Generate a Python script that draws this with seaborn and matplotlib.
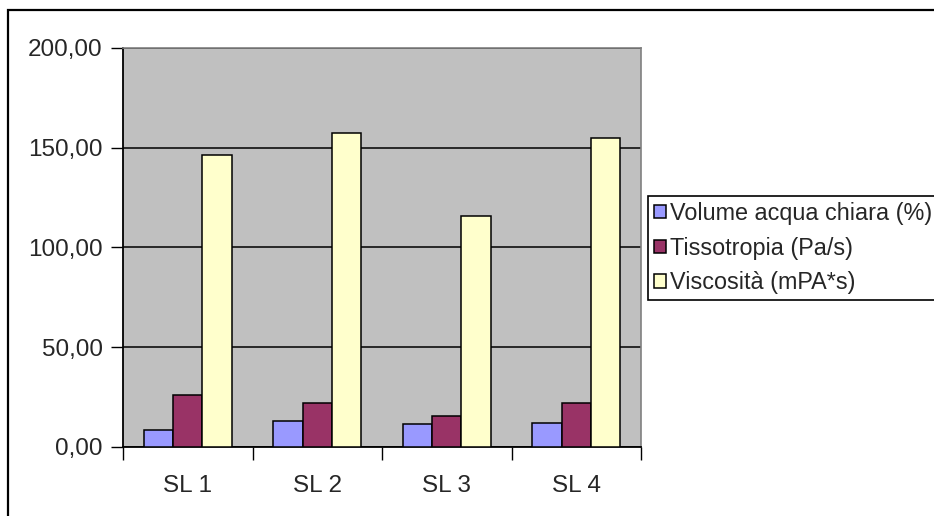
import matplotlib
matplotlib.use("Agg")
import matplotlib.pyplot as plt
from matplotlib.patches import Rectangle
from matplotlib.ticker import FuncFormatter, MultipleLocator
import pandas as pd
import seaborn as sns

# data
samples = ["SL 1", "SL 2", "SL 3", "SL 4"]
series = ["Volume acqua chiara (%)", "Tissotropia (Pa/s)", "Viscosità (mPA*s)"]
volume_acqua = [8.7, 13.0, 11.3, 12.1]
tissotropia = [26.0, 22.0, 15.5, 22.0]
viscosita = [146.5, 157.5, 116.0, 155.0]
colors = ["#9999FF", "#993366", "#FFFFCC"]

df = pd.DataFrame({
    "campione": samples * 3,
    "serie": [s for s in series for _ in samples],
    "valore": volume_acqua + tissotropia + viscosita,
})

sns.set_style("white")
plt.rcParams["font.family"] = ["Liberation Sans", "DejaVu Sans"]
FS = 17.5

fig = plt.figure(figsize=(9.34, 5.16), dpi=100)
ax = fig.add_axes([123 / 934, 1 - 447 / 516, (641 - 123) / 934, (447 - 48) / 516])
ax.set_facecolor("#C0C0C0")

sns.barplot(data=df, x="campione", y="valore", hue="serie", palette=colors,
            width=0.68, edgecolor="black", linewidth=1.1, saturation=1,
            errorbar=None, ax=ax, zorder=3)

# axis limits, grid, ticks
ax.set_ylim(0, 200)
ax.set_xlim(-0.5, 3.5)
ax.yaxis.set_major_locator(MultipleLocator(50))
ax.yaxis.set_major_formatter(FuncFormatter(lambda v, p: f"{v:.2f}".replace(".", ",")))
ax.grid(axis="y", color="black", linewidth=1.1, zorder=1)
ax.set_axisbelow(True)
ax.tick_params(axis="y", direction="out", length=9, width=1, color="black",
               labelsize=FS, pad=5.5, left=True)
ax.xaxis.set_minor_locator(MultipleLocator(1, offset=0.5))
ax.tick_params(axis="x", which="major", length=0, labelsize=FS, pad=20)
ax.tick_params(axis="x", which="minor", direction="out", length=9, width=1,
               color="black", bottom=True)
ax.set_xlabel("")
ax.set_ylabel("")

for side in ["top", "right"]:
    ax.spines[side].set_color("#808080")
    ax.spines[side].set_linewidth(1.2)
for side in ["left", "bottom"]:
    ax.spines[side].set_color("black")
    ax.spines[side].set_linewidth(1.3)

# legend box to the right
handles, labels = ax.get_legend_handles_labels()
ax.legend(handles, labels, loc="upper left",
          bbox_to_anchor=(648 / 934, 1 - 196 / 516), bbox_transform=fig.transFigure,
          fontsize=16.8, frameon=True, fancybox=False, edgecolor="black",
          framealpha=1, borderpad=0.25, handlelength=0.5, handleheight=0.5,
          handletextpad=0.2, labelspacing=0.5, borderaxespad=0)
ax.get_legend().get_frame().set_linewidth(1.2)

# outer chart border
fig.patches.append(Rectangle((8 / 934, -0.1), 1.2, 1.1 - 10 / 516,
                             transform=fig.transFigure, fill=False,
                             edgecolor="black", linewidth=1.6))

fig.savefig("out.png", dpi=100)
